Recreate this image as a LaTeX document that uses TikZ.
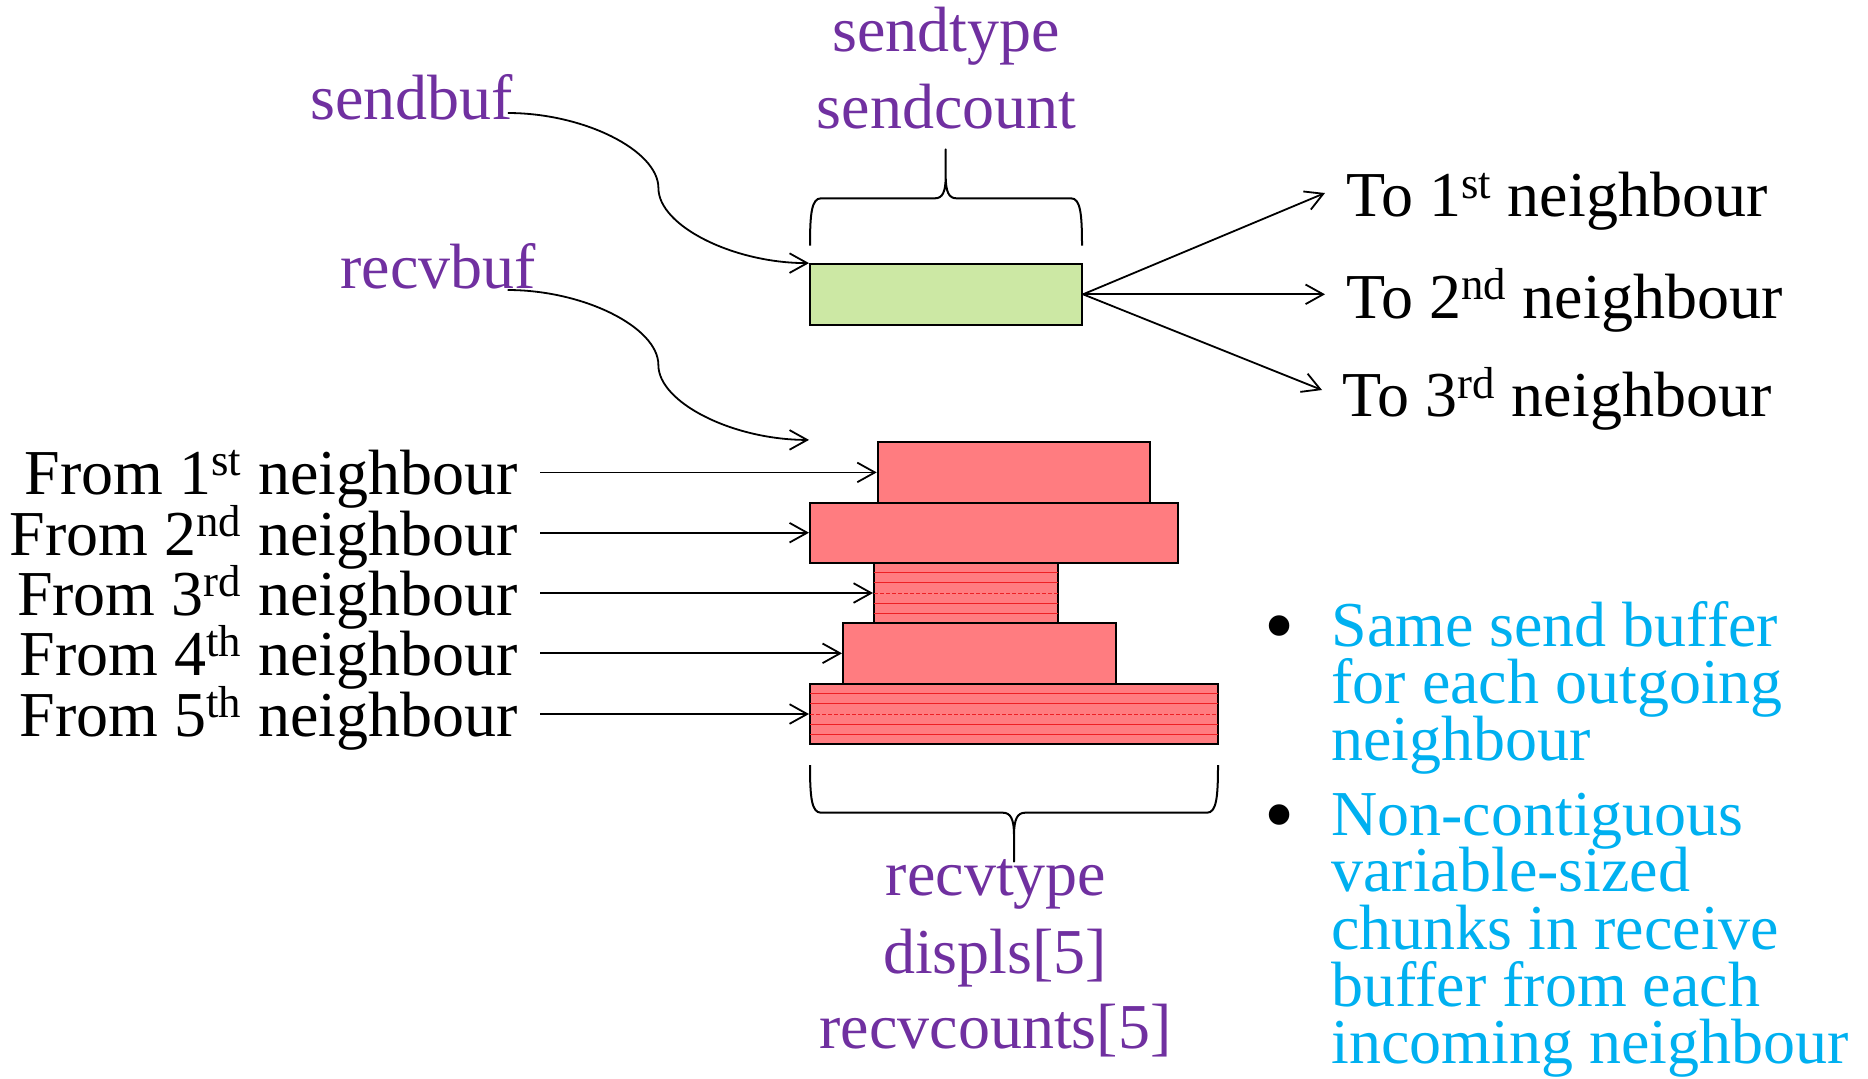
\documentclass[tikz,border=0pt]{standalone}
\usepackage{fontspec}
\setmainfont{Liberation Serif}
\usetikzlibrary{arrows.meta,calc}

\definecolor{labelpurple}{RGB}{112,48,160}
\definecolor{notecyan}{RGB}{0,176,240}
\definecolor{sendfill}{RGB}{204,232,164}
\definecolor{recvfill}{RGB}{255,124,128}
\definecolor{hatchred}{RGB}{238,32,36}

\begin{document}
\begin{tikzpicture}[x=0.5pt,y=-0.5pt,
  txt/.style={inner sep=0pt, font=\fontsize{32}{38}\selectfont, text height=0.66em, text depth=0.2em},
  param/.style={txt, text=labelpurple},
  note/.style={txt, text=notecyan, anchor=base west},
  dot/.style={inner sep=0pt, font=\fontsize{43}{43}\selectfont, anchor=base},
  buf/.style={draw=black, line width=1pt, inner sep=0pt, minimum height=30.2pt},
  sendbox/.style={buf, fill=sendfill},
  recvbox/.style={buf, fill=recvfill},
  link/.style={line width=0.9pt, -{Straight Barb[length=8.8pt,width=9.8pt]}},
  curly/.style={line width=1pt, line join=round},
  hatch/.style={draw=hatchred, line width=0.5pt, shorten <=0.6pt, shorten >=0.6pt},
  ]
\useasboundingbox (0,0) rectangle (1868,1078);

% send buffer
\node[sendbox, minimum width=136pt] (sbuf) at (946,294.3) {};

% receive buffer: one chunk per incoming neighbour
\node[recvbox, minimum width=136.2pt] (r1) at (1013.9,472.4) {};
\node[recvbox, minimum width=184pt]   (r2) at (994,532.7) {};
\node[recvbox, minimum width=92pt]    (r3) at (966,593) {};
\node[recvbox, minimum width=136.3pt] (r4) at (979.3,653.3) {};
\node[recvbox, minimum width=204pt]   (r5) at (1014,714) {};

% horizontal line pattern in chunks 3 and 5
\foreach \b in {r3,r5}{
  \foreach \k in {1,2,4,5}
    \draw[hatch] ($(\b.north west)!\k/6!(\b.south west)$) -- ($(\b.north east)!\k/6!(\b.south east)$);
  \draw[hatch, dash pattern=on 2pt off 1pt] ($(\b.north west)!0.5!(\b.south west)$) -- ($(\b.north east)!0.5!(\b.south east)$);
}

% argument labels
\node[param, anchor=base] (stype)  at (946,51.7)  {sendtype};
\node[param, anchor=base] (scount) at (946.5,128.3) {sendcount};
\node[param, anchor=base west] (sendbuf) at (310,119.3) {sendbuf};
\node[param, anchor=base west] (recvbuf) at (340,288.3) {recvbuf};
\node[param, anchor=base] (rtype)   at (996,895)    {recvtype};
\node[param, anchor=base] (displs)  at (995,973.3)  {displs[5]};
\node[param, anchor=base] (rcounts) at (995.5,1048.3) {recvcounts[5]};

% braces
\draw[curly] (810,245.7) .. controls (810,214) and (811.5,198.3) .. (821,198.3)
  -- (935,198.3) .. controls (942.5,198.3) and (945.7,192) .. (945.7,176) -- (945.7,149.3)
  -- (945.7,176) .. controls (945.7,192) and (948.9,198.3) .. (956.4,198.3)
  -- (1071,198.3) .. controls (1080.5,198.3) and (1082,214) .. (1082,245.7);
\draw[curly] (810,765) .. controls (810,797) and (811.5,812.7) .. (821,812.7)
  -- (1003,812.7) .. controls (1010.5,812.7) and (1014,819) .. (1014,835) -- (1014,861.7)
  -- (1014,835) .. controls (1014,819) and (1017.5,812.7) .. (1025,812.7)
  -- (1207,812.7) .. controls (1216.5,812.7) and (1218,797) .. (1218,765);

% buffer pointers
\coordinate (sb0) at ($(sendbuf.base east)+(-5.6,-6.3)$);
\coordinate (sbmid) at ($(sb0)!0.5!(sbuf.north west)$);
\draw[link] (sb0) .. controls +(75.75,0) and +(0,-37.75) .. (sbmid)
  .. controls +(0,37.75) and +(-75.75,0) .. (sbuf.north west);
\coordinate (rb0) at ($(recvbuf.base east)+(-28.5,1.7)$);
\coordinate (rtop) at ($(r2.west |- r1.north)+(0,-1.3)$);
\coordinate (rbmid) at ($(rb0)!0.5!(rtop)$);
\draw[link] (rb0) .. controls +(75.75,0) and +(0,-37.75) .. (rbmid)
  .. controls +(0,37.75) and +(-75.75,0) .. (rtop);

% outgoing neighbours
\node[txt, anchor=base west] (to1) at (1346,216.7) {To 1\textsuperscript{st} neighbour};
\node[txt, anchor=base west] (to2) at (1346,318)   {To 2\textsuperscript{nd} neighbour};
\node[txt, anchor=base west] (to3) at (1342.5,416.7) {To 3\textsuperscript{rd} neighbour};
\coordinate (t1) at (1325,193);
\coordinate (t2) at (1325,294.3);
\coordinate (t3) at (1322,390);
\foreach \t in {t1,t2,t3}
  \draw[link] (sbuf.east) -- (\t);

% incoming neighbours
\node[txt, anchor=base east] (from1) at (518,494) {From 1\textsuperscript{st} neighbour};
\node[txt, anchor=base east] (from2) at (518,555) {From 2\textsuperscript{nd} neighbour};
\node[txt, anchor=base east] (from3) at (518,615) {From 3\textsuperscript{rd} neighbour};
\node[txt, anchor=base east] (from4) at (518,675) {From 4\textsuperscript{th} neighbour};
\node[txt, anchor=base east] (from5) at (518,736) {From 5\textsuperscript{th} neighbour};
\foreach \i in {1,...,5}
  \draw[link] ($(from\i.east |- r\i.west)+(22,0)$) -- (r\i.west);

% notes
\node[dot] (dot1) at (1280,654) {\textbullet};
\node[note] (n1a) at (1331,646)   {Same send buffer};
\node[note] (n1b) at (1331,703.3) {for each outgoing};
\node[note] (n1c) at (1331,760.7) {neighbour};
\node[dot] (dot2) at (1280,843) {\textbullet};
\node[note] (n2a) at (1331,835)    {Non-contiguous};
\node[note] (n2b) at (1331,891.7)  {variable-sized};
\node[note] (n2c) at (1331,949.3)  {chunks in receive};
\node[note] (n2d) at (1331,1006.7) {buffer from each};
\node[note] (n2e) at (1331,1063.3) {incoming neighbour};
\end{tikzpicture}
\end{document}
